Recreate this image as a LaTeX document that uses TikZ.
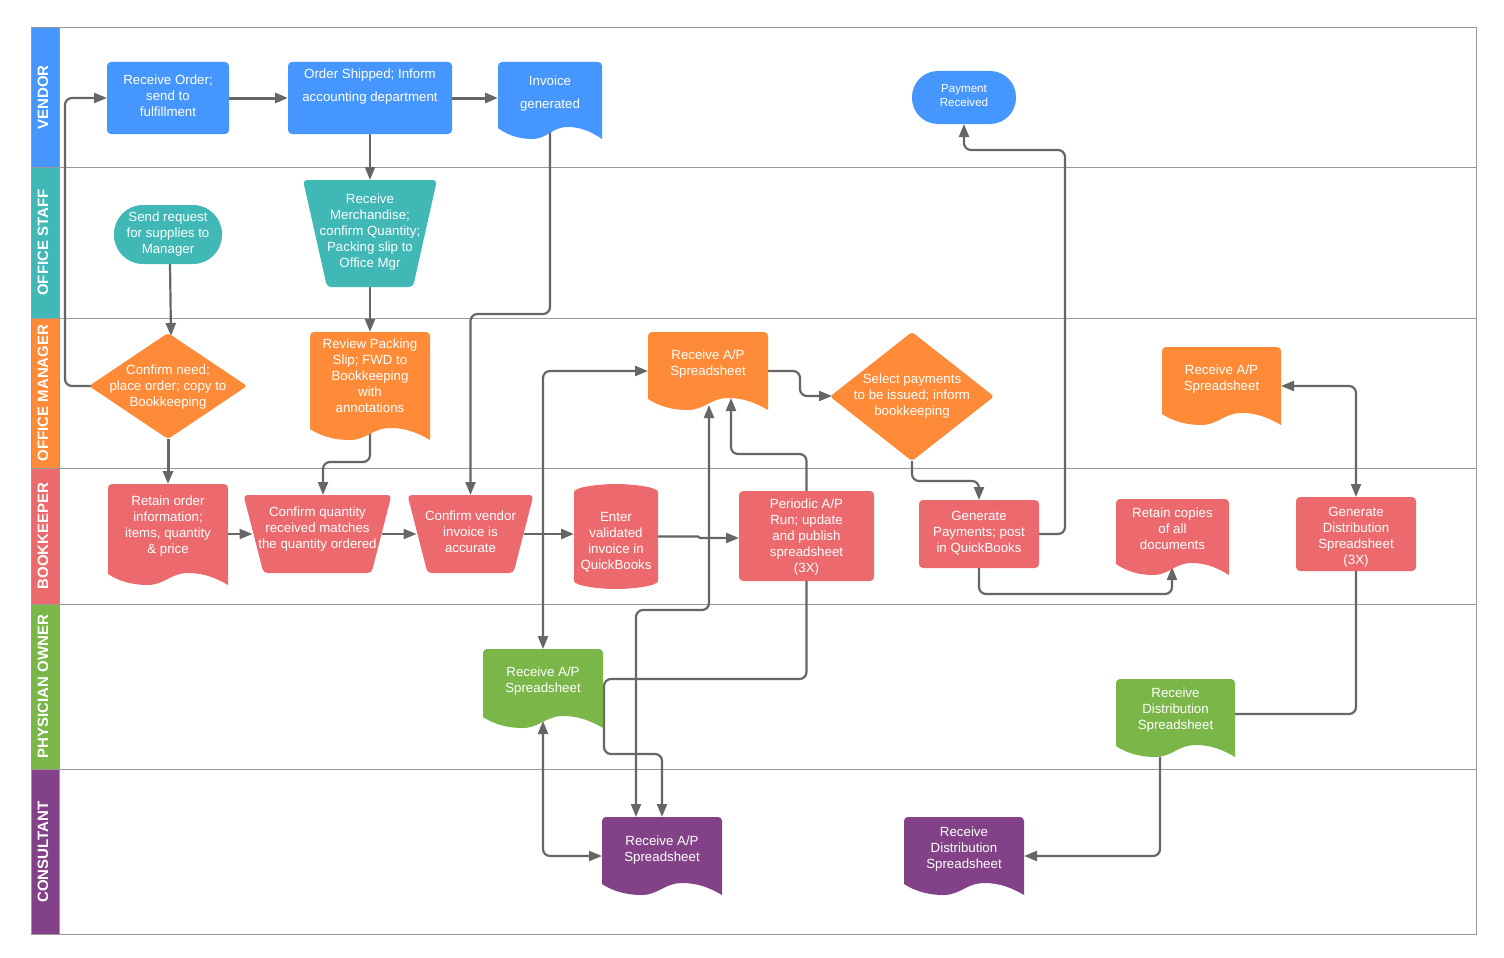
\documentclass[tikz,border=0pt]{standalone}
\usepackage{fontspec}
\setmainfont{Liberation Sans}
\usetikzlibrary{shapes.geometric,arrows.meta}
\pgfdeclarelayer{bg}\pgfdeclarelayer{conn}
\pgfsetlayers{bg,conn,main}
\definecolor{cblue}{HTML}{4596FF}
\definecolor{cteal}{HTML}{3FB8B6}
\definecolor{corange}{HTML}{FF8A38}
\definecolor{cred}{HTML}{EC6A6E}
\definecolor{cgreen}{HTML}{7AB648}
\definecolor{cpurple}{HTML}{834187}
\definecolor{cline}{HTML}{666666}
\definecolor{cframe}{HTML}{9A9A9A}
\tikzset{
  box/.style={inner sep=0pt,outer sep=0pt,text=white,anchor=center},
  rbox/.style={box,rounded corners=4pt},
  lane/.style={inner sep=0pt,text=white,rotate=90,font=\fontsize{15}{17}\selectfont\bfseries},
  conn/.style={draw=cline,line width=2.2pt,rounded corners=7pt,-{Triangle[length=13pt,width=10pt]}},
  plain/.style={draw=cline,line width=2.2pt,rounded corners=7pt},
  both/.style={conn,{Triangle[length=13pt,width=10pt]}-{Triangle[length=13pt,width=10pt]}},
  heavy/.style={line width=3pt},
}
\newcommand\tx[3][13.3]{\raisebox{\rz pt}[0pt][0pt]{\fontsize{#1}{#2}\selectfont\begin{tabular}{@{}c@{}}#3\end{tabular}}}
% named box: [style]{name}{x1}{y1}{x2}{y2}{text centre y}{lines}
\newcommand\bx[8][]{%
  \pgfmathsetmacro\rz{(#4+#6)/2-#7-3.3-1.5}%
  \node[box,#1,minimum width={(#5-#3)*1pt},minimum height={(#6-#4)*1pt}] (#2) at ({(#3+#5)/2},{(#4+#6)/2}) {\tx{16}{#8}};}
% document with a wavy foot
\newcommand\docu[8][cblue]{%
  \fill[#1] (#3,#6-11) [rounded corners=4pt] -- (#3,#4) -- (#5,#4) [sharp corners] -- (#5,#6)
    .. controls ({#5-0.1*(#5-#3)},#6-7) and ({#3+0.8*(#5-#3)},#6-12) .. ({#3+0.67*(#5-#3)},#6-12)
    .. controls ({#3+0.52*(#5-#3)},#6-12) and ({#3+0.47*(#5-#3)},#6) .. ({#3+0.33*(#5-#3)},#6)
    .. controls ({#3+0.22*(#5-#3)},#6) and ({#3+0.1*(#5-#3)},#6-3) .. (#3,#6-11) -- cycle;
  \bx{#2}{#3}{#4}{#5}{#6}{#7}{#8}}
% trapezoid: [colour]{name}{x1}{y1}{x2}{y2}{inset}{text centre}{lines}
\newcommand\trap[9][cred]{%
  \fill[#1,rounded corners=4pt] (#3,#4) -- (#5,#4) -- (#5-#7,#6) -- (#3+#7,#6) -- cycle;
  \bx{#2}{#3}{#4}{#5}{#6}{#8}{#9}}
\begin{document}
\begin{tikzpicture}[x=1pt,y=-1pt]
\useasboundingbox (0,0) rectangle (1504,958);
% lanes
\begin{pgfonlayer}{bg}
\fill[white] (0,0) rectangle (1504,958);
\fill[cblue]   (31.5,28) rectangle (59.5,167);
\fill[cteal]   (31.5,167) rectangle (59.5,318);
\fill[corange] (31.5,318) rectangle (59.5,468);
\fill[cred]    (31.5,468) rectangle (59.5,604);
\fill[cgreen]  (31.5,604) rectangle (59.5,769);
\fill[cpurple] (31.5,769) rectangle (59.5,935);
\draw[cframe,line width=1pt] (31.5,27.5) rectangle (1476.5,934.5);
\draw[cframe,line width=1pt] (59.5,27.5) -- (59.5,934.5);
\foreach \yy in {167,318,468,604,769} \draw[cframe,line width=1pt] (31.5,\yy) -- (1476.5,\yy);
\end{pgfonlayer}
\node[lane] (l1) at (43,97.5) {VENDOR};
\node[lane] (l2) at (43,242.5) {OFFICE STAFF};
\node[lane] (l3) at (43,393) {OFFICE MANAGER};
\node[lane] (l4) at (43,536) {BOOKKEEPER};
\node[lane] (l5) at (43,686.5) {PHYSICIAN OWNER};
\node[lane] (l6) at (43,852) {CONSULTANT};
% vendor
\bx[rbox,fill=cblue]{order}{107}{62}{229}{134}{96.5}{Receive Order;\\send to\\fulfillment}
\bx[rbox,fill=cblue]{shipped}{288}{62}{452}{134}{85.5}{Order Shipped; Inform\\[7pt]accounting department}
\docu[cblue]{invoice}{498}{62}{602}{139}{92.5}{Invoice\\[7pt]generated}
\pgfmathsetmacro\rz{0.5-3}%
\node[box,fill=cblue,rounded corners=26pt,minimum width=104pt,minimum height=53pt] (payment) at (964,97.5) {\tx[11.6]{14}{Payment\\Received}};
% office staff
\bx[box,fill=cteal,rounded corners=29pt]{request}{114}{205}{222}{264}{233.5}{Send request\\for supplies to\\Manager}
\trap[cteal]{merch}{303}{180}{437}{287}{24}{231.5}{Receive\\Merchandise;\\confirm Quantity;\\Packing slip to\\Office Mgr}
% office manager
\bx[box,diamond,aspect=1.5,rounded corners=3pt,fill=corange]{need}{89}{333}{247}{439}{386.5}{Confirm need;\\place order; copy to\\Bookkeeping}
\docu[corange]{review}{310}{332}{430}{440}{376.5}{Review Packing\\Slip; FWD to\\Bookkeeping\\with\\annotations}
\docu[corange]{apm}{648}{332}{768}{410}{363.5}{Receive A/P\\Spreadsheet}
\bx[box,diamond,aspect=1.27,rounded corners=3pt,fill=corange]{select}{830}{332}{994}{461}{395.5}{Select payments\\to be issued; inform\\bookkeeping}
\docu[corange]{apr}{1162}{347}{1281}{425}{378.5}{Receive A/P\\Spreadsheet}
% bookkeeper
\docu[cred]{retain}{108}{484}{228}{585}{525.5}{Retain order\\information;\\items, quantity\\\& price}
\trap[cred]{qty}{243.5}{495}{391.5}{573}{20}{528.5}{Confirm quantity\\received matches\\the quantity ordered}
\trap[cred]{vendorchk}{407.5}{495}{533.5}{573}{20}{532.5}{Confirm vendor\\invoice is\\accurate}
\fill[cred] (574,492) .. controls (574,487) and (600,484) .. (616,484) .. controls (632,484) and (658,487) .. (658,492)
  -- (658,581) .. controls (658,586) and (632,589) .. (616,589) .. controls (600,589) and (574,586) .. (574,581) -- cycle;
\bx{enter}{574}{484}{658}{589}{541.5}{Enter\\validated\\invoice in\\QuickBooks}
\bx[rbox,fill=cred]{periodic}{739}{491}{874}{581}{536.5}{Periodic A/P\\Run; update\\and publish\\spreadsheet\\(3X)}
\bx[rbox,fill=cred]{genpay}{919}{500}{1039}{568}{532.5}{Generate\\Payments; post\\in QuickBooks}
\docu[cred]{copies}{1116}{499}{1229}{575}{529.5}{Retain copies\\of all\\documents}
\bx[rbox,fill=cred]{gendist}{1296}{497}{1416}{571}{536.5}{Generate\\Distribution\\Spreadsheet\\(3X)}
% physician owner
\docu[cgreen]{apg}{483}{649}{603}{728}{680.5}{Receive A/P\\Spreadsheet}
\docu[cgreen]{distg}{1116}{679}{1235}{757}{709.5}{Receive\\Distribution\\Spreadsheet}
% consultant
\docu[cpurple]{app}{602}{817}{722}{895}{849.5}{Receive A/P\\Spreadsheet}
\docu[cpurple]{distp}{904}{817}{1024}{895}{848.5}{Receive\\Distribution\\Spreadsheet}
% free ends on the wavy feet
\coordinate (apm-a) at (709,405);
\coordinate (apm-b) at (731,398);
\coordinate (apg-a) at (543,721);
\coordinate (copies-a) at (1172,567);
% connectors
\begin{pgfonlayer}{conn}
\draw[conn] (need.center) -- (need.center -| 65,0) -- (65,98) -- (order.west |- 0,98);
\draw[conn,heavy] (order.east) -- (shipped.west);
\draw[conn,heavy] (shipped.east) -- (invoice.west |- shipped.east);
\draw[conn] (shipped.south) -- (merch.north);
\draw[conn] (invoice.center) -- (invoice.center |- 0,314) -- (vendorchk.north |- 0,314) -- (vendorchk.north);
\draw[conn] ([xshift=2pt]request.south) -- ([xshift=3pt,yshift=-3pt]need.north);
\draw[conn] (merch.south) -- (review.north);
\draw[conn,heavy] (need.south) -- (retain.north);
\draw[conn] (review.center) -- (review.center |- 0,462) -- (323,462) -- (323,495);
\draw[conn] (retain.east |- qty.west) -- ([xshift=9pt]qty.west);
\draw[conn] ([xshift=-10pt]qty.east) -- ([xshift=9pt]vendorchk.west);
\draw[conn] ([xshift=-10pt]vendorchk.east) -- (enter.west |- vendorchk.east);
\draw[conn,sharp corners] (enter.east) -- (698,536.5) -- (700,538) -- (periodic.west |- 0,538);
\draw[both] (apg.north) -- (apg.north |- apm.west) -- (apm.west |- 0,371);
\draw[conn] (apm.east |- 0,371) -- (800,371) -- (800,396) -- ([xshift=2pt]select.west |- 0,396);
\draw[conn] (select.south) -- (select.south |- 0,481) -- (genpay.north |- 0,481) -- (genpay.north);
\draw[conn] (genpay.east |- 0,534) -- (1065,534) -- (1065,150) -- (payment.south |- 0,150) -- (payment.south);
\draw[conn] (genpay.south) -- (genpay.south |- 0,594) -- (copies-a |- 0,594) -- (copies-a);
\draw[both] (apr.east |- 0,386) -- (gendist.north |- 0,386) -- (gendist.north);
\draw[plain] (gendist.south) -- (gendist.south |- 0,714) -- (distg.east |- 0,714);
\draw[conn] (1160,757) -- (1160,856) -- (distp.east |- 0,856);
\draw[both] (apg-a) -- (apg-a |- 0,856) -- (app.west |- 0,856);
\draw[conn] (periodic.north) -- (periodic.north |- 0,454) -- (apm-b |- 0,454) -- (apm-b);
\draw[conn] (periodic.south) -- (periodic.south |- 0,679) -- (604,679) -- (604,754) -- (app.north |- 0,754) -- (app.north);
\draw[both] (apm-a) -- (apm-a |- 0,610) -- (636,610) -- (636,817);
\end{pgfonlayer}
\end{tikzpicture}
\end{document}
